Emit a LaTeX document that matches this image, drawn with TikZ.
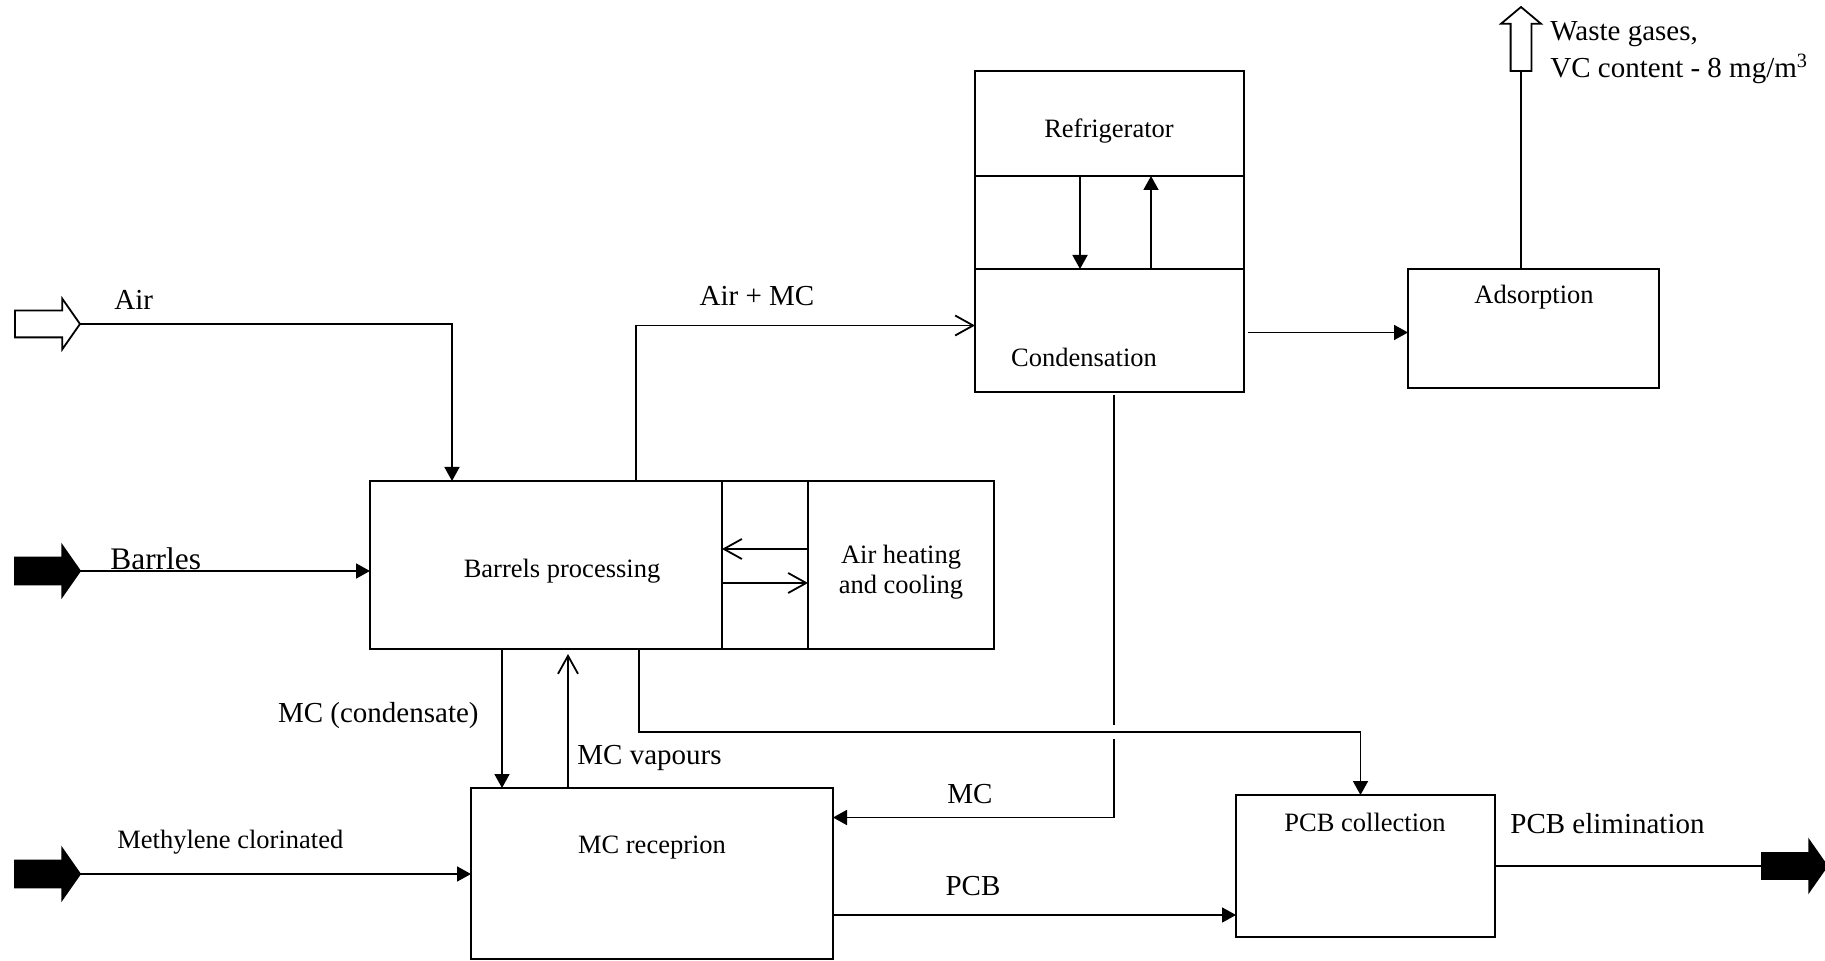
\documentclass[tikz,border=0pt]{standalone}
\usepackage{fontspec}
\setmainfont{Liberation Serif}
\usetikzlibrary{positioning,shapes.arrows,arrows.meta,calc}

\newcommand\unitfont{\fontsize{13.25pt}{15pt}\selectfont}
\newcommand\flowfont{\fontsize{14.5pt}{18.5pt}\selectfont}
\newcommand\feedfont{\fontsize{15.7pt}{18pt}\selectfont}

\tikzset{
	unitbox/.style={draw, line width=.9pt, inner sep=0pt, outer sep=0pt},
	unittext/.style={inner sep=0pt, font=\unitfont},
	flowtext/.style={inner sep=0pt, font=\flowfont},
	pipe/.style={line width=.9pt},
	flow/.style={pipe, -{Triangle[width=7.5pt,length=7pt]}},
	vapour/.style={pipe, -{Straight Barb[width=10pt,length=9pt]}},
	feed/.style={single arrow, draw, line width=.9pt, inner xsep=0pt, inner ysep=6.25pt, outer sep=0pt, minimum height=32.5pt, single arrow head extend=6pt, single arrow tip angle=110},
	feedopen/.style={feed, fill=white},
	feedfull/.style={feed, fill=black},
}

\begin{document}
\begin{tikzpicture}[x=0.5pt, y=-0.5pt]
	\useasboundingbox (0,0) rectangle (1825,961);
	
	\node[unitbox, minimum width=176pt, minimum height=84pt, anchor=north west] (barrels) at (370,481) {};
	\node[unitbox, minimum width=43pt, minimum height=84pt, right=0pt of barrels] (heatgap) {};
	\node[unitbox, minimum width=93pt, minimum height=84pt, right=0pt of heatgap] (heating) {};
	
	\node[unitbox, minimum width=134.5pt, minimum height=52.5pt, anchor=north west] (refrig) at (975,71) {};
	\node[unitbox, minimum width=134.5pt, minimum height=46.5pt, below=0pt of refrig] (coolgap) {};
	\node[unitbox, minimum width=134.5pt, minimum height=61.5pt, below=0pt of coolgap] (cond) {};
	
	\node[unitbox, minimum width=125.5pt, minimum height=59.5pt, anchor=north west] (adsorp) at (1408,269) {};
	\node[unitbox, minimum width=181pt, minimum height=85.5pt, anchor=north west] (mcrec) at (471,788) {};
	\node[unitbox, minimum width=129.5pt, minimum height=71pt, anchor=north west] (pcbcol) at (1236,795) {};
	
	\node[feedopen, anchor=tip] (airin) at (80,324) {};
	\node[feedfull, anchor=tip] (barrin) at (80,571) {};
	\node[feedfull, anchor=tip] (methin) at (80,874) {};
	\node[feedfull, inner ysep=6pt, single arrow head extend=6.25pt, anchor=tail] (pcbout) at (1762,866) {};
	\node[feedopen, minimum height=32pt, inner xsep=4.75pt, inner ysep=0pt, single arrow head extend=4.75pt, single arrow tip angle=100, shape border rotate=90, anchor=tail] (wasteout) at (1521,71) {};
	
	\node[unittext, anchor=base] (barrtext) at (562,578) {Barrels processing};
	\node[unittext, align=center] (heattext) at (901,572) {Air heating\\and cooling};
	\node[unittext, anchor=base] (reftext) at (1109,138) {Refrigerator};
	\node[unittext, anchor=base] (condtext) at (1084,367) {Condensation};
	\node[unittext, anchor=base] (adstext) at (1534,304) {Adsorption};
	\node[unittext, anchor=base] (mcrectext) at (652,853) {MC receprion};
	\node[unittext, anchor=base] (pcbtext) at (1365,831) {PCB collection};
	
	\node[flowtext, anchor=base west] (airlab) at (114,310) {Air};
	\node[inner sep=0pt, font=\feedfont, anchor=base west] (barrlab) at (110,570) {Barrles};
	\node[unittext, anchor=base west] (methlab) at (117,848) {Methylene clorinated};
	\node[flowtext, anchor=base] (airmclab) at (757,306) {Air + MC};
	\node[flowtext, anchor=base east] (condlab) at (479,723) {MC (condensate)};
	\node[flowtext, anchor=base west] (vaplab) at (577,764) {MC vapours};
	\node[flowtext, anchor=base] (mclab) at (970,803) {MC};
	\node[flowtext, anchor=base] (pcblab) at (973,895) {PCB};
	\node[flowtext, anchor=base west] (elimlab) at (1510,833) {PCB elimination};
	\node[flowtext, align=left, anchor=west] (wastelab) at (1550,53) {Waste gases,\\VC content - 8 mg/m\textsuperscript{3}};
	
	\coordinate (cross) at (1114,732);
	
	\draw[flow] (airin.tip) -| ($(barrels.north west)+(82,0)$);
	\draw[flow] (barrin.tip) -- (barrin.tip -| barrels.west);
	\draw[flow] (methin.tip) -- (methin.tip -| mcrec.west);
	\draw[vapour] ($(barrels.north west)+(266,0)$) |- ($(cond.west)+(0,-5)$);
	\draw[flow] ($(coolgap.north west)+(105,0)$) -- ($(coolgap.south west)+(105,0)$);
	\draw[flow] ($(coolgap.south west)+(176,0)$) -- ($(coolgap.north west)+(176,0)$);
	\draw[vapour] ($(heatgap.east)+(0,-16)$) -- ($(heatgap.west)+(0,-16)$);
	\draw[vapour] ($(heatgap.west)+(0,18)$) -- ($(heatgap.east)+(0,18)$);
	\draw[flow] ($(cond.east)+(4,2)$) -- ($(cond.east -| adsorp.west)+(0,2)$);
	\draw[pipe] (adsorp.north -| wasteout.tail) -- (wasteout.tail);
	\draw[pipe] ($(cond.south -| cross)+(0,3)$) -- ($(cross)+(0,-7)$);
	\draw[flow] ($(cross)+(0,7)$) |- ($(mcrec.east)+(0,-56)$);
	\draw[flow] ($(barrels.south west)+(269,0)$) |- (cross) -| ($(pcbcol.north)+(-5,0)$);
	\draw[flow] ($(barrels.south west)+(132,0)$) -- ($(mcrec.north west)+(31,0)$);
	\draw[vapour] ($(mcrec.north west)+(97,0)$) -- ($(barrels.south west)+(198,5)$);
	\draw[flow] ($(mcrec.south east)+(0,-44)$) -- ($(mcrec.south east -| pcbcol.west)+(0,-44)$);
	\draw[pipe] (pcbcol.east) -- (pcbcol.east -| pcbout.tail);
\end{tikzpicture}
\end{document}
